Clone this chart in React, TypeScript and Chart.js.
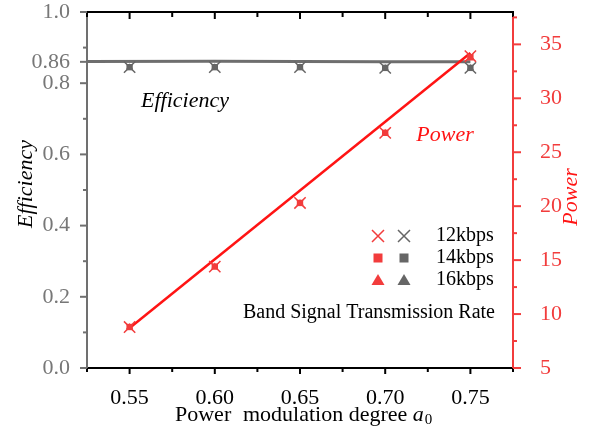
import React, { useEffect, useRef } from 'react';
import { Chart, registerables } from 'chart.js';
Chart.register(...registerables);

// ---------- data ----------
const X_VALUES = [0.55, 0.6, 0.65, 0.7, 0.75];
const POWER_12KBPS = [8.8, 14.4, 20.3, 26.8, 33.9];
const POWER_14KBPS = [8.8, 14.4, 20.3, 26.8, 33.8];
const POWER_16KBPS = [8.8, 14.4, 20.3, 26.8, 33.8];
const EFF_12KBPS = [0.845, 0.845, 0.845, 0.843, 0.843];
const EFF_14KBPS = [0.845, 0.845, 0.845, 0.843, 0.843];
const EFF_16KBPS = [0.845, 0.845, 0.845, 0.843, 0.843];
const POWER_FIT_X = [0.55, 0.75];
const POWER_FIT_Y = [8.7, 34.2];
const EFF_FIT_X = [0.525, 0.6, 0.65, 0.7, 0.75];
const EFF_FIT_Y = [0.861, 0.862, 0.861, 0.86, 0.86];

const X_TICKS = [0.55, 0.6, 0.65, 0.7, 0.75];
const X_MINOR = [0.525, 0.575, 0.625, 0.675, 0.725, 0.775];
const EFF_TICKS = [0, 0.2, 0.4, 0.6, 0.8, 0.86, 1.0];
const EFF_MINOR = [0.1, 0.3, 0.5, 0.7, 0.9];
const POWER_TICKS = [5, 10, 15, 20, 25, 30, 35];
const POWER_MINOR = [7.5, 12.5, 17.5, 22.5, 27.5, 32.5, 37.5];
const LEGEND_LABELS = ['12kbps', '14kbps', '16kbps'];

const FONT = '"Liberation Serif", "Times New Roman", serif';
const RED = '#f23c3c';
const RED_LINE = '#ff1414';
const GREY = '#666666';
const AXIS_GREY = '#707070';

const pts = (xs: number[], ys: number[]) => xs.map((x, i) => ({ x, y: ys[i] }));

function drawMarker(ctx: CanvasRenderingContext2D, kind: string, x: number, y: number, color: string) {
  ctx.save();
  ctx.fillStyle = color;
  ctx.strokeStyle = color;
  if (kind === 'cross') {
    ctx.lineWidth = 1.5;
    const s = 6;
    ctx.beginPath();
    ctx.moveTo(x - s, y - s); ctx.lineTo(x + s, y + s);
    ctx.moveTo(x - s, y + s); ctx.lineTo(x + s, y - s);
    ctx.stroke();
  } else if (kind === 'rect') {
    ctx.fillRect(x - 4.5, y - 4.5, 9, 9);
  } else {
    ctx.beginPath();
    ctx.moveTo(x, y - 6);
    ctx.lineTo(x + 6.5, y + 5);
    ctx.lineTo(x - 6.5, y + 5);
    ctx.closePath();
    ctx.fill();
  }
  ctx.restore();
}

const decorPlugin = {
  id: 'decor',
  afterDraw(chart: any) {
    const ctx: CanvasRenderingContext2D = chart.ctx;
    const xs = chart.scales.x;
    const ys = chart.scales.y;
    const ps = chart.scales.y1;
    const { left, right, top, bottom } = chart.chartArea;
    ctx.save();
    // top border
    ctx.strokeStyle = '#000';
    ctx.lineWidth = 2;
    ctx.beginPath();
    ctx.moveTo(left, top); ctx.lineTo(right + 1, top);
    ctx.stroke();
    // x ticks (bottom and top)
    const xTick = (v: number, len: number) => {
      const p = xs.getPixelForValue(v);
      ctx.beginPath();
      ctx.moveTo(p, bottom); ctx.lineTo(p, bottom + len);
      ctx.moveTo(p, top); ctx.lineTo(p, top + len + 1);
      ctx.stroke();
    };
    ctx.strokeStyle = '#000';
    ctx.lineWidth = 2;
    X_TICKS.forEach(v => xTick(v, 6));
    X_MINOR.forEach(v => xTick(v, 4));
    // left ticks
    ctx.strokeStyle = AXIS_GREY;
    const yTick = (v: number, len: number) => {
      const p = ys.getPixelForValue(v);
      ctx.beginPath();
      ctx.moveTo(left, p); ctx.lineTo(left - len, p);
      ctx.stroke();
    };
    EFF_TICKS.forEach(v => yTick(v, 7));
    EFF_MINOR.forEach(v => yTick(v, 4));
    // right ticks
    ctx.strokeStyle = RED;
    const pTick = (v: number, len: number) => {
      const p = ps.getPixelForValue(v);
      ctx.beginPath();
      ctx.moveTo(right, p); ctx.lineTo(right + len, p);
      ctx.stroke();
    };
    POWER_TICKS.forEach(v => pTick(v, 8));
    POWER_MINOR.forEach(v => pTick(v, 4));

    // in-plot labels
    ctx.textBaseline = 'middle';
    ctx.textAlign = 'center';
    ctx.fillStyle = '#000';
    ctx.font = `italic 22px ${FONT}`;
    ctx.fillText('Efficiency', 185, 101);
    ctx.fillStyle = RED_LINE;
    ctx.fillText('Power', 445, 135);

    // legend
    const rows = [236, 258, 280];
    const kinds = ['cross', 'rect', 'tri'];
    ctx.font = `20px ${FONT}`;
    ctx.textAlign = 'left';
    ctx.fillStyle = '#000';
    rows.forEach((ry, i) => {
      drawMarker(ctx, kinds[i], 378, ry, RED);
      drawMarker(ctx, kinds[i], 404, ry, GREY);
      ctx.fillStyle = '#000';
      ctx.fillText(LEGEND_LABELS[i], 436, ry);
    });
    ctx.textAlign = 'right';
    ctx.fillText('Band Signal Transmission Rate', 495, 313);

    // axis titles
    ctx.textAlign = 'left';
    ctx.font = `22px ${FONT}`;
    ctx.fillStyle = '#000';
    ctx.fillText('Power', 175, 415);
    ctx.fillText('modulation degree', 243, 415);
    const w = ctx.measureText('modulation degree ').width;
    ctx.font = `italic 22px ${FONT}`;
    ctx.fillText('a', 243 + w, 415);
    const wa = ctx.measureText('a').width;
    ctx.font = `15px ${FONT}`;
    ctx.fillText('0', 243 + w + wa + 1, 420);

    ctx.font = `italic 22px ${FONT}`;
    ctx.textAlign = 'center';
    ctx.save();
    ctx.translate(26, 184);
    ctx.rotate(-Math.PI / 2);
    ctx.fillStyle = '#000';
    ctx.fillText('Efficiency', 0, 0);
    ctx.restore();
    ctx.save();
    ctx.translate(571, 197);
    ctx.rotate(-Math.PI / 2);
    ctx.fillStyle = RED_LINE;
    ctx.fillText('Power', 0, 0);
    ctx.restore();
    ctx.restore();
  },
};

export default function App() {
  const ref = useRef<HTMLCanvasElement>(null);
  useEffect(() => {
    if (!ref.current) return;
    const markerDs = (label: string, ys: number[], axis: string, style: string, color: string, radius: number) => ({
      label,
      data: pts(X_VALUES, ys),
      yAxisID: axis,
      showLine: false,
      pointStyle: style,
      pointRadius: radius,
      pointBackgroundColor: color,
      pointBorderColor: color,
      pointBorderWidth: style === 'crossRot' ? 1.5 : 0,
    });
    const chart = new Chart(ref.current, {
      type: 'scatter',
      data: {
        datasets: [
          markerDs('Power 12kbps', POWER_12KBPS, 'y1', 'crossRot', RED, 8),
          markerDs('Power 14kbps', POWER_14KBPS, 'y1', 'rect', RED, 4.5),
          markerDs('Power 16kbps', POWER_16KBPS, 'y1', 'triangle', RED, 4),
          markerDs('Eff 12kbps', EFF_12KBPS, 'y', 'crossRot', GREY, 8),
          markerDs('Eff 14kbps', EFF_14KBPS, 'y', 'rect', GREY, 4.5),
          markerDs('Eff 16kbps', EFF_16KBPS, 'y', 'triangle', GREY, 4),
          {
            label: 'Power fit',
            data: pts(POWER_FIT_X, POWER_FIT_Y),
            yAxisID: 'y1',
            showLine: true,
            borderColor: RED_LINE,
            borderWidth: 2.5,
            pointRadius: 0,
          },
          {
            label: 'Efficiency fit',
            data: pts(EFF_FIT_X, EFF_FIT_Y),
            yAxisID: 'y',
            showLine: true,
            borderColor: '#6e6e6e',
            borderWidth: 3,
            pointRadius: 0,
          },
        ],
      } as any,
      options: {
        responsive: false,
        animation: false,
        layout: { padding: { top: 12, left: 0, right: 0, bottom: 0 } },
        plugins: { legend: { display: false }, tooltip: { enabled: false } },
        scales: {
          x: {
            type: 'linear',
            min: 0.525,
            max: 0.775,
            afterFit: (s: any) => { s.height = 64; s.paddingLeft = 0; s.paddingRight = 0; },
            afterBuildTicks: (s: any) => { s.ticks = X_TICKS.map(v => ({ value: v })); },
            grid: { display: false },
            border: { display: true, color: '#000', width: 2 },
            ticks: {
              autoSkip: false,
              maxRotation: 0,
              padding: 9,
              color: '#000',
              font: { family: FONT, size: 22 },
              callback: (v: any) => Number(v).toFixed(2),
            },
          },
          y: {
            type: 'linear',
            position: 'left',
            min: 0,
            max: 1.0,
            afterFit: (s: any) => { s.width = 87; s.paddingTop = 0; s.paddingBottom = 0; },
            afterBuildTicks: (s: any) => { s.ticks = EFF_TICKS.map(v => ({ value: v })); },
            grid: { display: false },
            border: { display: true, color: AXIS_GREY, width: 2 },
            ticks: {
              autoSkip: false,
              padding: 9,
              color: '#777777',
              font: { family: FONT, size: 22 },
              callback: (v: any) => (Math.abs(v - 0.86) < 1e-6 ? '0.86' : Number(v).toFixed(1)),
            },
          },
          y1: {
            type: 'linear',
            position: 'right',
            min: 5,
            max: 38,
            afterFit: (s: any) => { s.width = 81; s.paddingTop = 0; s.paddingBottom = 0; },
            afterBuildTicks: (s: any) => { s.ticks = POWER_TICKS.map(v => ({ value: v })); },
            grid: { display: false },
            border: { display: true, color: RED, width: 2 },
            ticks: {
              autoSkip: false,
              padding: 19,
              color: RED,
              font: { family: FONT, size: 22 },
              callback: (v: any) => String(v),
            },
          },
        },
      } as any,
      plugins: [decorPlugin],
    });
    return () => chart.destroy();
  }, []);
  return (
    <div style={{ position: 'absolute', left: 0, top: 0, width: 594, height: 432 }}>
      <canvas ref={ref} width={594} height={432} />
    </div>
  );
}
